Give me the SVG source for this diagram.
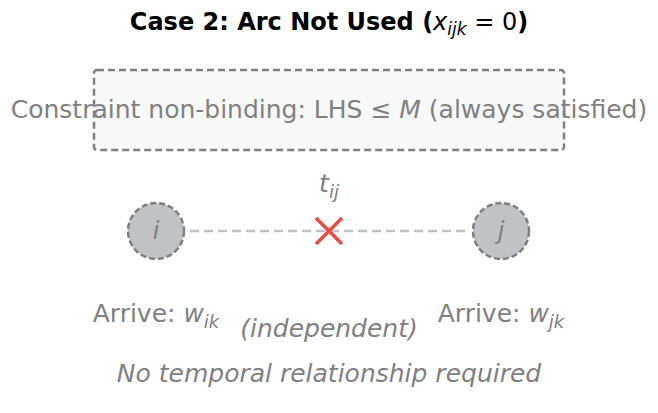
<svg xmlns="http://www.w3.org/2000/svg" width="658" height="413" viewBox="0 0 658 413">
<style>
text{font-family:"DejaVu Sans",sans-serif;fill:#808080}
.title{font-weight:bold;fill:#000;font-size:24px}
.it{font-style:italic}
.node{fill:#bdc3c7;stroke:#7f7f7f;stroke-width:2.5;stroke-dasharray:6,3}
</style>
<rect width="658" height="413" fill="#fff"/>
<text class="title" x="329" y="30" text-anchor="middle">Case 2: Arc Not Used (<tspan class="it" font-weight="normal" fill="#000">x</tspan><tspan class="it" font-weight="normal" fill="#000" font-size="17" dy="5">ijk</tspan><tspan font-weight="normal" fill="#000" dy="-5"> = 0</tspan>)</text>
<g id="constraint">
<rect x="94" y="70" width="470" height="80" rx="3" fill="#f7f9f9" stroke="#808080" stroke-width="2.5" stroke-dasharray="7,4"/>
<text x="329" y="118" text-anchor="middle" font-size="25">Constraint non-binding: LHS  ≤ <tspan class="it">M</tspan> (always satisfied)</text>
</g>
<g id="connectors">
<line x1="190" y1="231" x2="470" y2="231" stroke="#bdc3c7" stroke-width="2.5" stroke-dasharray="9,5"/>
<path d="M316,218 L342,244 M342,218 L316,244" stroke="#e74c3c" stroke-width="3.5"/>
<text x="329" y="192" text-anchor="middle" font-size="25" class="it">t<tspan font-size="18" dy="6">ij</tspan></text>
</g>
<g id="node-i">
<circle class="node" cx="156" cy="231" r="28"/>
<text x="156" y="239" text-anchor="middle" font-size="24" class="it">i</text>
<text x="156" y="322" text-anchor="middle" font-size="25">Arrive: <tspan class="it">w</tspan><tspan class="it" font-size="18" dy="6">ik</tspan></text>
</g>
<g id="node-j">
<circle class="node" cx="501" cy="231" r="28"/>
<text x="501" y="239" text-anchor="middle" font-size="24" class="it">j</text>
<text x="501" y="322" text-anchor="middle" font-size="25">Arrive: <tspan class="it">w</tspan><tspan class="it" font-size="18" dy="6">jk</tspan></text>
</g>
<text x="329" y="337" text-anchor="middle" font-size="25" class="it">(independent)</text>
<text x="329" y="382" text-anchor="middle" font-size="25" class="it">No temporal relationship required</text>
</svg>
